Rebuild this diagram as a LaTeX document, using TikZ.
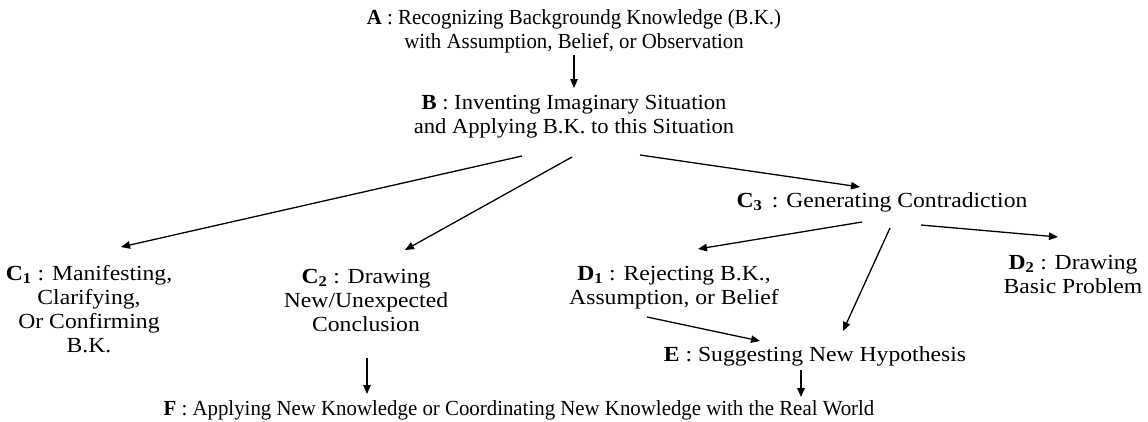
\documentclass[tikz,border=0pt]{standalone}
\usepackage{fontspec}
\setmainfont{Liberation Serif}
\newfontfamily\widefont{Liberation Serif}[FakeStretch=1.1]
\newfontfamily\midfont{Liberation Serif}[FakeStretch=1.05]
\newfontfamily\narrowfont{Liberation Serif}[FakeStretch=0.97]
\usetikzlibrary{arrows.meta}
\begin{document}
\begin{tikzpicture}[x=1pt,y=-1pt,
  lbl/.style={align=center,inner sep=0pt,font=\widefont\fontsize{21.5}{24}\selectfont},
  blbl/.style={align=center,inner sep=0pt,font=\midfont\fontsize{21.5}{24}\selectfont},
  flbl/.style={align=center,inner sep=0pt,font=\narrowfont\fontsize{21.5}{24}\selectfont},
  arr/.style={-{Triangle[length=9pt,width=7.5pt]},line width=1.3pt}]
\useasboundingbox (0,0) rectangle (1148,421);
\node[flbl] (A) at (574,31) {\textbf{A} : Recognizing Backgroundg Knowledge (B.K.)\\with Assumption, Belief, or Observation};
\node[blbl] (B) at (574,117) {\textbf{B} : Inventing Imaginary Situation\\and Applying B.K. to this Situation};
\node[lbl] (C3) at (882,202) {\textbf{C\textsubscript{3}}\, : Generating Contradiction};
\node[lbl] (C1) at (89,309) {\textbf{C\textsubscript{1}} : Manifesting,\\Clarifying,\\Or Confirming\\B.K.};
\node[lbl] (C2) at (366,300) {\textbf{C\textsubscript{2}} : Drawing\\New/Unexpected\\Conclusion};
\node[lbl] (D1) at (674,288) {\textbf{D\textsubscript{1}} : Rejecting B.K.,\\Assumption, or Belief};
\node[lbl] (D2) at (1073,274) {\textbf{D\textsubscript{2}} : Drawing\\Basic Problem};
\node[lbl] (E) at (815,356) {\textbf{E} : Suggesting New Hypothesis};
\node[flbl] (F) at (519,410) {\textbf{F} : Applying New Knowledge or Coordinating New Knowledge with the Real World};
\draw[arr] ([shift={(0,24)}]A.center) -- ([shift={(0,-29)}]B.center);
\draw[arr] ([shift={(-52,39)}]B.center) -- ([shift={(32,-62)}]C1.center);
\draw[arr] ([shift={(-2,40)}]B.center) -- ([shift={(39,-50)}]C2.center);
\draw[arr] ([shift={(66,38)}]B.center) -- ([shift={(-22,-15)}]C3.center);
\draw[arr] ([shift={(-20,20)}]C3.center) -- ([shift={(24,-39)}]D1.center);
\draw[arr] ([shift={(8,26)}]C3.center) -- ([shift={(28,-25)}]E.center);
\draw[arr] ([shift={(39,23)}]C3.center) -- ([shift={(-15,-37)}]D2.center);
\draw[arr] ([shift={(-27,29)}]D1.center) -- ([shift={(-55,-15)}]E.center);
\draw[arr] ([shift={(1,58)}]C2.center) -- ([shift={(-152,-16)}]F.center);
\draw[arr] ([shift={(-14,14)}]E.center) -- ([shift={(282,-13)}]F.center);
\end{tikzpicture}
\end{document}
